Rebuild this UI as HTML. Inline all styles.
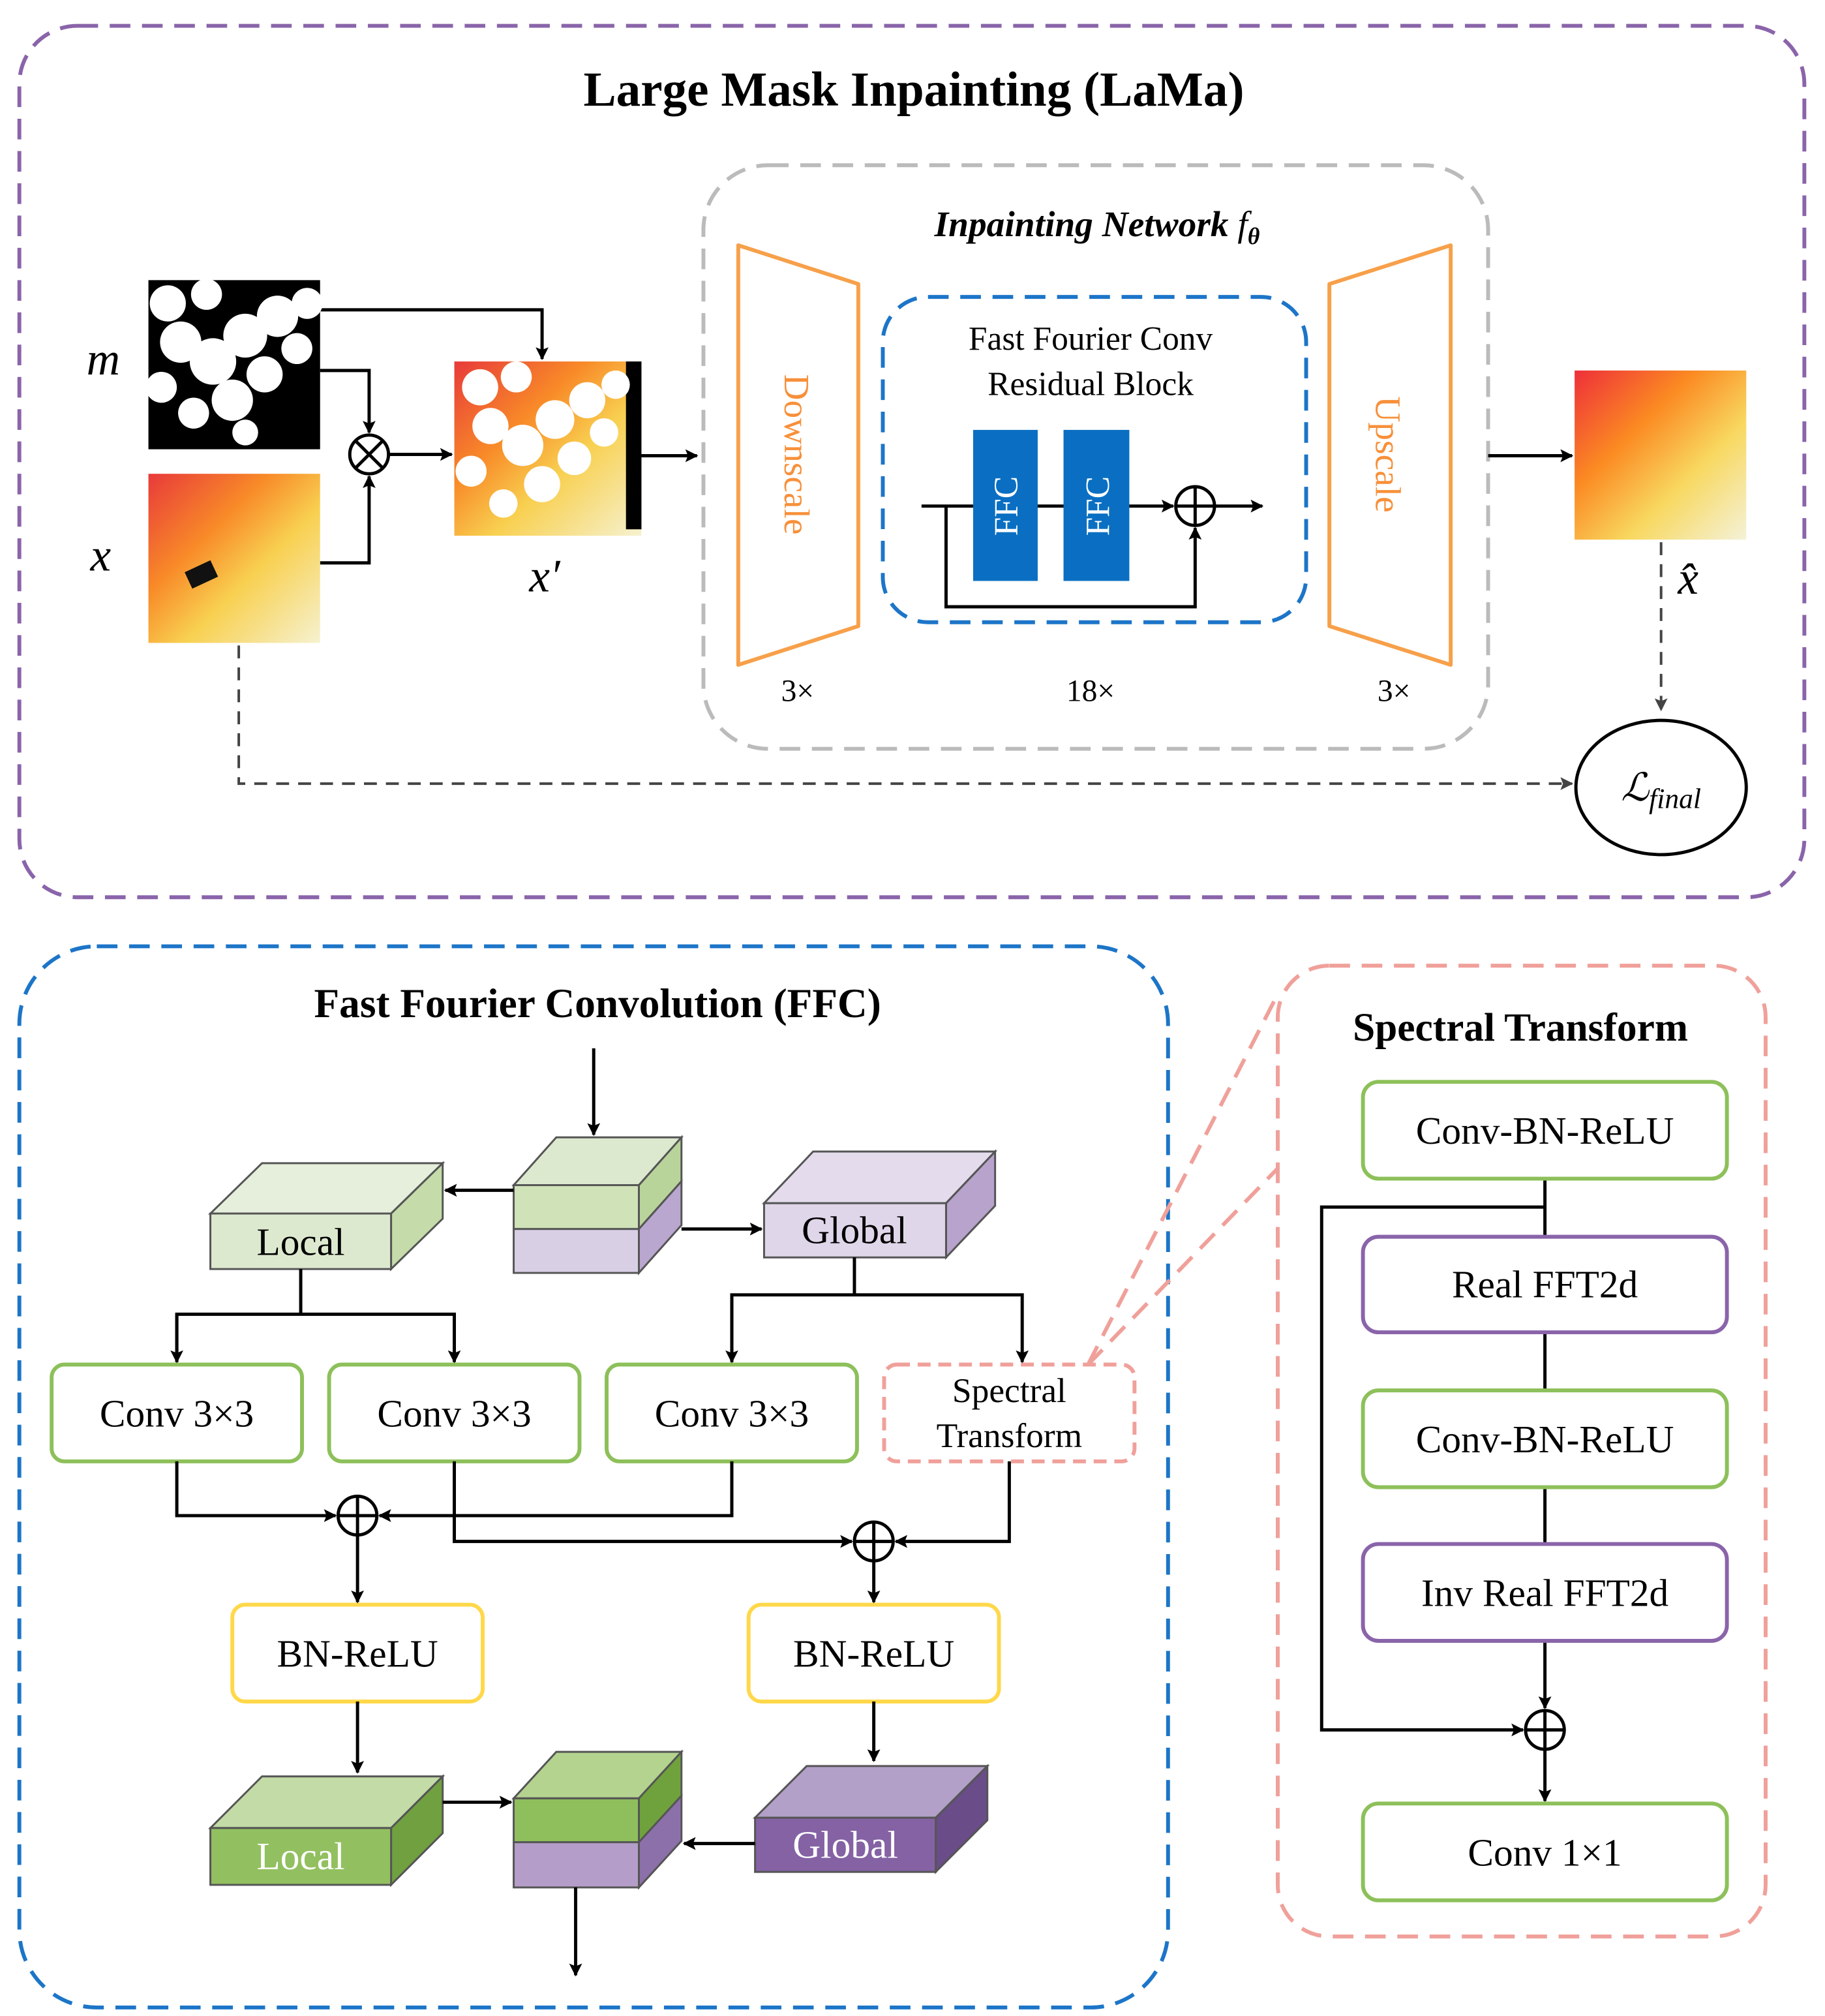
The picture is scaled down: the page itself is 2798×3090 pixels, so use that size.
<!DOCTYPE html>
<html><head><meta charset="utf-8"><style>
html,body{margin:0;padding:0;background:#fff}
svg{display:block}
text{font-family:"Liberation Serif",serif}
</style></head><body>
<svg width="2798" height="3090" viewBox="0 0 1414 1561.6" preserveAspectRatio="none" xmlns="http://www.w3.org/2000/svg">
<defs>
<marker id="a" markerWidth="10" markerHeight="10" refX="9" refY="5" orient="auto" markerUnits="userSpaceOnUse"><path d="M0,0 L10,5 L0,10 L2,5 z" fill="#000"/></marker>
<marker id="ag" markerWidth="10" markerHeight="10" refX="9" refY="5" orient="auto" markerUnits="userSpaceOnUse"><path d="M0,0 L10,5 L0,10 L2,5 z" fill="#444"/></marker>
<linearGradient id="gx" x1="0" y1="0" x2="1" y2="1"><stop offset="0" stop-color="#e83a3a"/><stop offset="0.35" stop-color="#f88a28"/><stop offset="0.6" stop-color="#f8d050"/><stop offset="1" stop-color="#f6f2d0"/></linearGradient>
<linearGradient id="go" x1="0" y1="0" x2="1" y2="1"><stop offset="0" stop-color="#ee2f3a"/><stop offset="0.35" stop-color="#fb8a22"/><stop offset="0.65" stop-color="#f8d860"/><stop offset="1" stop-color="#f4f2d8"/></linearGradient>
</defs>
<g fill="none" stroke-linejoin="round">
<rect x="15" y="20" width="1383" height="675" rx="45" stroke="#8a64aa" stroke-width="3" stroke-dasharray="16,9"/>
<rect x="545" y="128" width="608" height="452" rx="50" stroke="#bbb" stroke-width="3" stroke-dasharray="16,9"/>
<polygon points="572,190 665,220 665,485 572,515" stroke="#f7a04a" stroke-width="3"/>
<polygon points="1030,220 1124,190 1124,515 1030,485" stroke="#f7a04a" stroke-width="3"/>
<rect x="684" y="230" width="328" height="252" rx="35" stroke="#1c75c8" stroke-width="3" stroke-dasharray="16,9"/>
</g>
<text x="708" y="82" font-size="38" font-weight="bold" text-anchor="middle">Large Mask Inpainting (LaMa)</text>
<text x="850" y="183" font-size="28" font-weight="bold" font-style="italic" text-anchor="middle">Inpainting Network  <tspan font-weight="normal">f</tspan><tspan font-size="18" dy="6">θ</tspan></text>
<text transform="translate(608,352) rotate(90)" font-size="28" fill="#f7903a" text-anchor="middle">Downscale</text>
<text transform="translate(1066,352) rotate(90)" font-size="28" fill="#f7903a" text-anchor="middle">Upscale</text>
<text x="618" y="543" font-size="24" text-anchor="middle">3×</text>
<text x="1080" y="543" font-size="24" text-anchor="middle">3×</text>
<text x="845" y="543" font-size="24" text-anchor="middle">18×</text>
<text x="845" y="271" font-size="26" text-anchor="middle">Fast Fourier Conv</text>
<text x="845" y="306" font-size="26" text-anchor="middle">Residual Block</text>
<g stroke="#000" stroke-width="2.5" fill="none">
<line x1="714" y1="392" x2="909" y2="392" marker-end="url(#a)"/>
<circle cx="926" cy="392" r="15"/><line x1="911" y1="392" x2="941" y2="392"/><line x1="926" y1="377" x2="926" y2="407"/>
<line x1="941" y1="392" x2="978" y2="392" marker-end="url(#a)"/>
<polyline points="733,392 733,470 926,470 926,409" marker-end="url(#a)"/>
<polyline points="248,240 420,240 420,278" marker-end="url(#a)"/>
<polyline points="248,287 286,287 286,335" marker-end="url(#a)"/>
<polyline points="248,436 286,436 286,369" marker-end="url(#a)"/>
<circle cx="286" cy="352" r="15"/><line x1="275" y1="341" x2="297" y2="363"/><line x1="297" y1="341" x2="275" y2="363"/>
<line x1="301" y1="352" x2="350" y2="352" marker-end="url(#a)"/>
<line x1="497" y1="353" x2="540" y2="353" marker-end="url(#a)"/>
<line x1="1153" y1="353" x2="1218" y2="353" marker-end="url(#a)"/>
</g>
<rect x="754" y="333" width="50" height="117" fill="#0a6fc2"/>
<rect x="824" y="333" width="51" height="117" fill="#0a6fc2"/>
<text transform="translate(788,392) rotate(-90)" font-size="26" fill="#fff" text-anchor="middle">FFC</text>
<text transform="translate(859,392) rotate(-90)" font-size="26" fill="#fff" text-anchor="middle">FFC</text>
<g stroke="#444" stroke-width="2" fill="none" stroke-dasharray="10,7">
<line x1="1287" y1="420" x2="1287" y2="550" marker-end="url(#ag)"/>
<polyline points="185,500 185,607 1218,607" marker-end="url(#ag)"/>
</g>
<ellipse cx="1287" cy="610" rx="66" ry="52" fill="none" stroke="#000" stroke-width="2.5"/>
<text x="1287" y="620" font-size="30" font-style="italic" text-anchor="middle">ℒ<tspan font-size="22" dy="6">final</tspan></text>
<text x="80" y="290" font-size="36" font-style="italic" text-anchor="middle">m</text>
<text x="78" y="442" font-size="36" font-style="italic" text-anchor="middle">x</text>
<text x="422" y="458" font-size="36" font-style="italic" text-anchor="middle">x′</text>
<text x="1308" y="460" font-size="36" font-style="italic" text-anchor="middle">x̂</text>
<rect x="115" y="217" width="133" height="131" fill="#000"/>
<g fill="#fff">
<circle cx="130" cy="235" r="14"/><circle cx="160" cy="228" r="12"/><circle cx="140" cy="265" r="16"/><circle cx="125" cy="300" r="12"/><circle cx="165" cy="280" r="18"/><circle cx="190" cy="260" r="17"/><circle cx="215" cy="245" r="16"/><circle cx="238" cy="235" r="12"/><circle cx="180" cy="310" r="16"/><circle cx="150" cy="320" r="12"/><circle cx="205" cy="290" r="14"/><circle cx="230" cy="270" r="12"/><circle cx="190" cy="335" r="10"/>
</g>
<rect x="115" y="367" width="133" height="131" fill="url(#gx)"/>
<rect x="145" y="438" width="22" height="14" fill="#111" transform="rotate(-25 156 445)"/>
<rect x="352" y="280" width="145" height="135" fill="url(#gx)"/>
<rect x="485" y="280" width="12" height="130" fill="#000"/>
<g fill="#fff">
<circle cx="372" cy="300" r="14"/><circle cx="400" cy="292" r="12"/><circle cx="380" cy="330" r="14"/><circle cx="365" cy="365" r="12"/><circle cx="405" cy="345" r="16"/><circle cx="430" cy="325" r="15"/><circle cx="455" cy="310" r="14"/><circle cx="477" cy="298" r="11"/><circle cx="420" cy="375" r="14"/><circle cx="390" cy="390" r="11"/><circle cx="445" cy="355" r="13"/><circle cx="468" cy="335" r="11"/>
</g>
<rect x="1220" y="287" width="133" height="131" fill="url(#go)"/>

<rect x="15" y="733" width="890" height="822" rx="60" fill="none" stroke="#1c75c8" stroke-width="3" stroke-dasharray="16,9"/>
<text x="463" y="788" font-size="32" font-weight="bold" text-anchor="middle">Fast Fourier Convolution (FFC)</text>
<g stroke="#555" stroke-width="1.5">
<polygon points="163,940 203,901 343,901 303,940" fill="#e6efdb"/>
<polygon points="303,940 343,901 343,944 303,983" fill="#c5dcaa"/>
<rect x="163" y="940" width="140" height="43" fill="#dde9cf"/>
<polygon points="398,918 431,881 528,881 495,918" fill="#dde9cf"/>
<polygon points="495,918 528,881 528,915 495,952" fill="#b9d49b"/>
<polygon points="495,952 528,915 528,949 495,986" fill="#b9a7cf"/>
<rect x="398" y="918" width="97" height="34" fill="#cfe2b8"/>
<rect x="398" y="952" width="97" height="34" fill="#d9cfe5"/>
<polygon points="592,932 630,892 771,892 733,932" fill="#e4dcec"/>
<polygon points="733,932 771,892 771,934 733,974" fill="#b7a3cc"/>
<rect x="592" y="932" width="141" height="42" fill="#e0d6ea"/>
<polygon points="163,1416 203,1376 343,1376 303,1416" fill="#c3dba6"/>
<polygon points="303,1416 343,1376 343,1420 303,1460" fill="#70a040"/>
<rect x="163" y="1416" width="140" height="44" fill="#92c060"/>
<polygon points="398,1393 431,1357 528,1357 495,1393" fill="#b3d38f"/>
<polygon points="495,1393 528,1357 528,1391 495,1427" fill="#6fa23c"/>
<polygon points="495,1427 528,1391 528,1426 495,1462" fill="#8c70aa"/>
<rect x="398" y="1393" width="97" height="34" fill="#8fbf5d"/>
<rect x="398" y="1427" width="97" height="35" fill="#b49ec9"/>
<polygon points="585,1408 625,1368 765,1368 725,1408" fill="#b3a0c9"/>
<polygon points="725,1408 765,1368 765,1410 725,1450" fill="#6a4c89"/>
<rect x="585" y="1408" width="140" height="42" fill="#8462a4"/>
</g>
<text x="233" y="972" font-size="30" text-anchor="middle">Local</text>
<text x="662" y="963" font-size="30" text-anchor="middle">Global</text>
<text x="233" y="1448" font-size="30" text-anchor="middle" fill="#fff">Local</text>
<text x="655" y="1439" font-size="30" text-anchor="middle" fill="#fff">Global</text>
<g fill="#fff" stroke-width="3">
<rect x="40" y="1057" width="194" height="75" rx="10" stroke="#8dc05a"/>
<rect x="255" y="1057" width="194" height="75" rx="10" stroke="#8dc05a"/>
<rect x="470" y="1057" width="194" height="75" rx="10" stroke="#8dc05a"/>
<rect x="685" y="1057" width="194" height="75" rx="10" stroke="#f0a09a" stroke-dasharray="10,6"/>
<rect x="180" y="1243" width="194" height="75" rx="10" stroke="#ffd84a"/>
<rect x="580" y="1243" width="194" height="75" rx="10" stroke="#ffd84a"/>
</g>
<g font-size="30" text-anchor="middle">
<text x="137" y="1105">Conv 3×3</text>
<text x="352" y="1105">Conv 3×3</text>
<text x="567" y="1105">Conv 3×3</text>
<text x="782" y="1086" font-size="27">Spectral</text>
<text x="782" y="1121" font-size="27">Transform</text>
<text x="277" y="1291">BN-ReLU</text>
<text x="677" y="1291">BN-ReLU</text>
</g>
<g stroke="#000" stroke-width="2.5" fill="none">
<line x1="460" y1="812" x2="460" y2="879" marker-end="url(#a)"/>
<line x1="398" y1="922" x2="345" y2="922" marker-end="url(#a)"/>
<line x1="528" y1="952" x2="590" y2="952" marker-end="url(#a)"/>
<polyline points="233,983 233,1018"/>
<polyline points="137,1055 137,1018 352,1018 352,1055" marker-end="url(#a)"/>
<line x1="137" y1="1018" x2="137" y2="1055" marker-end="url(#a)"/>
<polyline points="662,974 662,1003"/>
<polyline points="567,1055 567,1003 792,1003 792,1055" marker-end="url(#a)"/>
<line x1="567" y1="1003" x2="567" y2="1055" marker-end="url(#a)"/>
<polyline points="137,1132 137,1174 260,1174" marker-end="url(#a)"/>
<polyline points="567,1132 567,1174 294,1174" marker-end="url(#a)"/>
<polyline points="352,1132 352,1194 660,1194" marker-end="url(#a)"/>
<polyline points="782,1132 782,1194 694,1194" marker-end="url(#a)"/>
<circle cx="277" cy="1174" r="15"/><line x1="262" y1="1174" x2="292" y2="1174"/><line x1="277" y1="1159" x2="277" y2="1189"/>
<circle cx="677" cy="1194" r="15"/><line x1="662" y1="1194" x2="692" y2="1194"/><line x1="677" y1="1179" x2="677" y2="1209"/>
<line x1="277" y1="1189" x2="277" y2="1241" marker-end="url(#a)"/>
<line x1="677" y1="1209" x2="677" y2="1241" marker-end="url(#a)"/>
<line x1="277" y1="1318" x2="277" y2="1373" marker-end="url(#a)"/>
<line x1="677" y1="1318" x2="677" y2="1364" marker-end="url(#a)"/>
<line x1="343" y1="1396" x2="396" y2="1396" marker-end="url(#a)"/>
<line x1="585" y1="1428" x2="530" y2="1428" marker-end="url(#a)"/>
<line x1="446" y1="1462" x2="446" y2="1530" marker-end="url(#a)"/>
</g>
<g stroke="#f0a09a" stroke-width="3" stroke-dasharray="16,9" fill="none">
<line x1="843" y1="1057" x2="990" y2="770"/>
<line x1="843" y1="1057" x2="990" y2="905"/>
</g>
<rect x="990" y="748" width="378" height="752" rx="40" fill="none" stroke="#f0a09a" stroke-width="3" stroke-dasharray="16,9"/>
<text x="1178" y="806" font-size="31" font-weight="bold" text-anchor="middle">Spectral Transform</text>
<g stroke="#000" stroke-width="2.5" fill="none">
<line x1="1197" y1="913" x2="1197" y2="958"/>
<line x1="1197" y1="1032" x2="1197" y2="1077"/>
<line x1="1197" y1="1152" x2="1197" y2="1196"/>
<line x1="1197" y1="1271" x2="1197" y2="1323" marker-end="url(#a)"/>
<polyline points="1197,935 1024,935 1024,1340 1180,1340" marker-end="url(#a)"/>
<circle cx="1197" cy="1340" r="15"/><line x1="1182" y1="1340" x2="1212" y2="1340"/><line x1="1197" y1="1325" x2="1197" y2="1355"/>
<line x1="1197" y1="1355" x2="1197" y2="1395" marker-end="url(#a)"/>
</g>
<g fill="#fff" stroke-width="3">
<rect x="1056" y="838" width="282" height="75" rx="12" stroke="#8dc05a"/>
<rect x="1056" y="958" width="282" height="74" rx="12" stroke="#8a64aa"/>
<rect x="1056" y="1077" width="282" height="75" rx="12" stroke="#8dc05a"/>
<rect x="1056" y="1196" width="282" height="75" rx="12" stroke="#8a64aa"/>
<rect x="1056" y="1397" width="282" height="75" rx="12" stroke="#8dc05a"/>
</g>
<g font-size="30" text-anchor="middle">
<text x="1197" y="886">Conv-BN-ReLU</text>
<text x="1197" y="1005">Real FFT2d</text>
<text x="1197" y="1125">Conv-BN-ReLU</text>
<text x="1197" y="1244">Inv Real FFT2d</text>
<text x="1197" y="1445">Conv 1×1</text>
</g>
</svg>
</body></html>
